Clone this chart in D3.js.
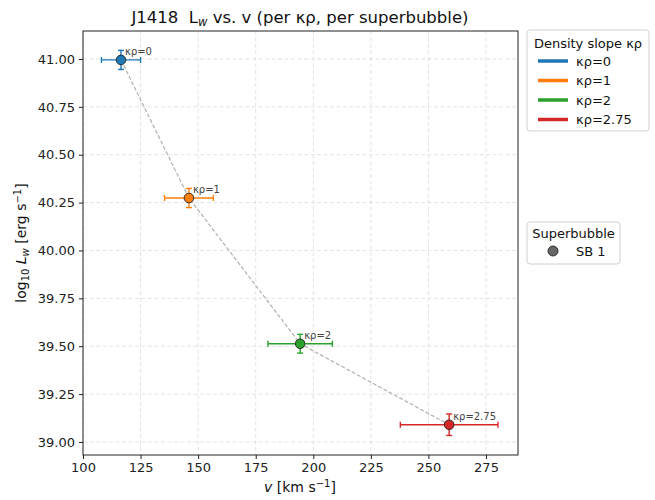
<!DOCTYPE html>
<html><head><meta charset="utf-8">
<script src="https://cdn.jsdelivr.net/npm/d3@7"></script>
<style>body{margin:0;background:#fff;font-family:"DejaVu Sans",sans-serif;} text{white-space:pre;}</style>
</head><body><svg id="c" width="655" height="500"></svg>
<script>
const kappaLabels = ["κρ=0","κρ=1","κρ=2","κρ=2.75"];
const colors = ["#1f77b4","#ff7f0e","#2ca02c","#d62728"];
const velocity = [116.5, 146.0, 194.3, 259.0];
const velocityErr = [8.5, 10.6, 14.0, 21.2];
const logLw = [40.995, 40.274, 39.513, 39.090];
const logLwErr = [0.05, 0.05, 0.049, 0.056];
const xTicks = [100,125,150,175,200,225,250,275];
const yTicks = [39.00,39.25,39.50,39.75,40.00,40.25,40.50,40.75,41.00];
const sbLabels = ["SB 1"];

const svg = d3.select("#c");
const m = {l:83, r:518, t:31, b:455};
const x = d3.scaleLinear().domain([100, 288.9]).range([m.l, m.r]);
const y = d3.scaleLinear().domain([38.932, 41.146]).range([m.b, m.t]);

// grid
const g = svg.append("g");
g.selectAll(".gx").data(xTicks).enter().append("line")
  .attr("x1",d=>x(d)).attr("x2",d=>x(d)).attr("y1",m.t).attr("y2",m.b)
  .attr("stroke","#dcdcdc").attr("stroke-width",0.8).attr("stroke-dasharray","4,2.5");
g.selectAll(".gy").data(yTicks).enter().append("line")
  .attr("y1",d=>y(d)).attr("y2",d=>y(d)).attr("x1",m.l).attr("x2",m.r)
  .attr("stroke","#dcdcdc").attr("stroke-width",0.8).attr("stroke-dasharray","4,2.5");

// axes
const xa = svg.append("g").attr("transform",`translate(0,${m.b})`)
  .call(d3.axisBottom(x).tickValues(xTicks).tickFormat(d3.format("d")).tickSize(4).tickPadding(4));
const ya = svg.append("g").attr("transform",`translate(${m.l},0)`)
  .call(d3.axisLeft(y).tickValues(yTicks).tickFormat(d3.format(".2f")).tickSize(4).tickPadding(4));
[xa,ya].forEach(a=>{a.select(".domain").remove();
  a.selectAll("text").attr("font-size","13px").attr("font-family","DejaVu Sans").attr("fill","#222");
  a.selectAll("line").attr("stroke","#222");});
svg.append("rect").attr("x",m.l).attr("y",m.t).attr("width",m.r-m.l).attr("height",m.b-m.t)
  .attr("fill","none").attr("stroke","#222").attr("stroke-width",1);

// connecting line
const pts = velocity.map((v,i)=>[x(v),y(logLw[i])]);
svg.append("path").attr("d",d3.line()(pts)).attr("fill","none")
  .attr("stroke","#b0b0b0").attr("stroke-width",1.2).attr("stroke-dasharray","4,2");

// error bars & points
velocity.forEach((v,i)=>{
  const c = colors[i], cx=x(v), cy=y(logLw[i]);
  const eg = svg.append("g").attr("stroke",c).attr("stroke-width",1.4);
  const x0=x(v-velocityErr[i]), x1=x(v+velocityErr[i]);
  const y0=y(logLw[i]-logLwErr[i]), y1=y(logLw[i]+logLwErr[i]);
  eg.append("line").attr("x1",x0).attr("x2",x1).attr("y1",cy).attr("y2",cy);
  eg.append("line").attr("x1",x0).attr("x2",x0).attr("y1",cy-3).attr("y2",cy+3);
  eg.append("line").attr("x1",x1).attr("x2",x1).attr("y1",cy-3).attr("y2",cy+3);
  eg.append("line").attr("x1",cx).attr("x2",cx).attr("y1",y0).attr("y2",y1);
  eg.append("line").attr("x1",cx-3).attr("x2",cx+3).attr("y1",y0).attr("y2",y0);
  eg.append("line").attr("x1",cx-3).attr("x2",cx+3).attr("y1",y1).attr("y2",y1);
  svg.append("circle").attr("cx",cx).attr("cy",cy).attr("r",4.8)
    .attr("fill",c).attr("stroke","#222").attr("stroke-width",0.9);
  svg.append("text").attr("x",cx+4).attr("y",cy-5).text(kappaLabels[i])
    .attr("font-size","10px").attr("fill","#444");
});

// title & labels
const title = svg.append("text").attr("x",300).attr("y",23).attr("text-anchor","middle")
  .attr("font-size","16.5px").attr("fill","#111").attr("xml:space","preserve");
title.append("tspan").text("J1418  L");
title.append("tspan").text("w").attr("font-size","11.5px").attr("font-style","italic").attr("dy",3);
title.append("tspan").text(" vs. v (per κρ, per superbubble)").attr("dy",-3);

const xl = svg.append("text").attr("x",300).attr("y",492).attr("text-anchor","middle")
  .attr("font-size","14px").attr("fill","#111");
xl.append("tspan").text("v").attr("font-style","italic");
xl.append("tspan").text(" [km s");
xl.append("tspan").text("−1").attr("font-size","10px").attr("dy",-5);
xl.append("tspan").text("]").attr("dy",5);

const yl = svg.append("text").attr("transform","translate(26,243) rotate(-90)").attr("text-anchor","middle")
  .attr("font-size","14px").attr("fill","#111");
yl.append("tspan").text("log");
yl.append("tspan").text("10").attr("font-size","10px").attr("dy",3);
yl.append("tspan").text(" L").attr("font-style","italic").attr("dy",-3);
yl.append("tspan").text("w").attr("font-style","italic").attr("font-size","10px").attr("dy",3);
yl.append("tspan").text(" [erg s").attr("dy",-3);
yl.append("tspan").text("−1").attr("font-size","10px").attr("dy",-5);
yl.append("tspan").text("]").attr("dy",5);

// legend 1
const l1 = svg.append("g");
l1.append("rect").attr("x",527).attr("y",30).attr("width",122).attr("height",101).attr("rx",3)
  .attr("fill","#fff").attr("stroke","#d0d0d0");
l1.append("text").attr("x",588).attr("y",48).attr("text-anchor","middle").attr("font-size","13px").attr("fill","#111").text("Density slope κρ");
kappaLabels.forEach((k,i)=>{
  const yy = 61 + i*19.5;
  l1.append("line").attr("x1",538).attr("x2",568).attr("y1",yy).attr("y2",yy).attr("stroke",colors[i]).attr("stroke-width",3.5);
  l1.append("text").attr("x",576).attr("y",yy+4.5).attr("font-size","13px").attr("fill","#111").text(k);
});

// legend 2
const l2 = svg.append("g");
l2.append("rect").attr("x",527).attr("y",222).attr("width",93).attr("height",42).attr("rx",3)
  .attr("fill","#fff").attr("stroke","#d0d0d0");
l2.append("text").attr("x",573.5).attr("y",238).attr("text-anchor","middle").attr("font-size","13px").attr("fill","#111").text("Superbubble");
sbLabels.forEach((s,i)=>{
  const yy = 251 + i*19;
  l2.append("circle").attr("cx",553).attr("cy",yy).attr("r",5).attr("fill","#666").attr("stroke","#222").attr("stroke-width",0.9);
  l2.append("text").attr("x",576).attr("y",yy+4.5).attr("font-size","13px").attr("fill","#111").text(s);
});
</script></body></html>
